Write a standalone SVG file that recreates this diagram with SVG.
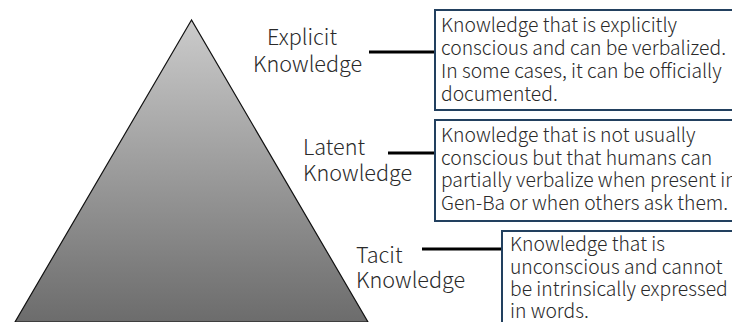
<svg xmlns="http://www.w3.org/2000/svg" width="732" height="322" viewBox="0 0 732 322">
<style>
.lbl{font-family:"Noto Sans CJK JP","Noto Sans",sans-serif;font-size:21.6px;font-weight:300;fill:#2a2a2a}
.txt{font-family:"Noto Sans CJK JP","Noto Sans",sans-serif;font-size:19.3px;font-weight:300;fill:#2a2a2a}
.box{fill:#fff;stroke:#22405f;stroke-width:2}
.conn{stroke:#000;stroke-width:3.2;fill:none}
</style>
<defs>
<linearGradient id="g" x1="0" y1="20" x2="0" y2="322" gradientUnits="userSpaceOnUse">
<stop offset="0" stop-color="#cbcbcb"/>
<stop offset="1" stop-color="#6c6c6c"/>
</linearGradient>
</defs>
<g id="pyramid">
<polygon points="191.5,20 15,322 368,322" fill="url(#g)" stroke="#111" stroke-width="1.2"/>
</g>
<g id="connectors">
<line class="conn" x1="369" y1="52" x2="435" y2="52"/>
<line class="conn" x1="388" y1="153" x2="435" y2="153"/>
<line class="conn" x1="422" y1="249" x2="502" y2="249"/>
</g>
<g id="explicit-label">
<text class="lbl" x="267" y="45">Explicit</text>
<text class="lbl" x="253" y="72">Knowledge</text>
</g>
<g id="latent-label">
<text class="lbl" x="303" y="155">Latent</text>
<text class="lbl" x="303" y="181">Knowledge</text>
</g>
<g id="tacit-label">
<text class="lbl" x="356" y="263">Tacit</text>
<text class="lbl" x="356" y="288">Knowledge</text>
</g>
<g id="explicit-box">
<rect class="box" x="435" y="10" width="310" height="100"/>
<text class="txt" x="441" y="31.5">Knowledge that is explicitly</text>
<text class="txt" x="441" y="55">conscious and can be verbalized.</text>
<text class="txt" x="441" y="78">In some cases, it can be officially</text>
<text class="txt" x="441" y="101">documented.</text>
</g>
<g id="latent-box">
<rect class="box" x="435" y="120" width="310" height="101"/>
<text class="txt" x="441" y="142">Knowledge that is not usually</text>
<text class="txt" x="441" y="164.5">conscious but that humans can</text>
<text class="txt" x="441" y="187">partially verbalize when present in</text>
<text class="txt" x="441" y="210">Gen-Ba or when others ask them.</text>
</g>
<g id="tacit-box">
<rect class="box" x="502" y="231" width="240" height="100"/>
<text class="txt" x="510" y="251">Knowledge that is</text>
<text class="txt" x="510" y="273.5">unconscious and cannot</text>
<text class="txt" x="510" y="296">be intrinsically expressed</text>
<text class="txt" x="510" y="318">in words.</text>
</g>
</svg>
